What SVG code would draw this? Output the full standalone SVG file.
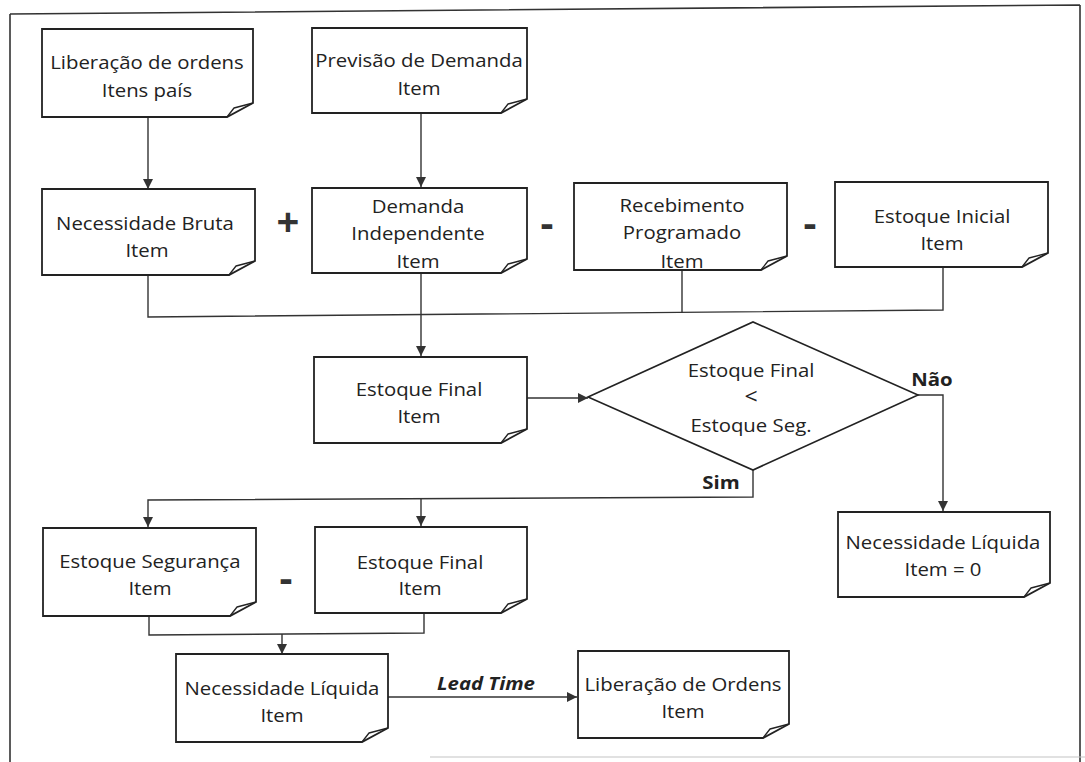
<svg xmlns="http://www.w3.org/2000/svg" width="1085" height="762" viewBox="0 0 1085 762">
  <style>
    .box{fill:#fff;stroke:#222;stroke-width:1.8;stroke-linejoin:miter}
    .fold{fill:none;stroke:#222;stroke-width:1.3;stroke-linejoin:round}
    .wire{fill:none;stroke:#333;stroke-width:1.4}
    .frame{fill:none;stroke:#333;stroke-width:1.6}
    .lbl{font-family:"Open Sans","Noto Sans","Liberation Sans",sans-serif;font-size:18.5px;fill:#222;text-anchor:middle;transform-box:fill-box;transform-origin:center;transform:scaleX(1.1)}
    .tag{font-weight:700}
    .lt{font-weight:700;font-style:italic}
    .op{font-family:"Open Sans","Noto Sans","Liberation Sans",sans-serif;font-size:40px;font-weight:700;fill:#333;text-anchor:middle}
  </style>
  <defs>
    <marker id="arrow" viewBox="0 0 10 10" refX="10" refY="5" markerWidth="10" markerHeight="10" markerUnits="userSpaceOnUse" orient="auto">
      <path d="M0,0 L10,5 L0,10 z" fill="#333"/>
    </marker>
  </defs>

  <rect width="1085" height="762" fill="#fff"/>

  <!-- page frame -->
  <g id="frame">
    <path class="frame" d="M10 14 L1080 5 M10 14 V762 M1080 5 V762"/>
    <path d="M430 757 H1085" fill="none" stroke="#c4c4c4" stroke-width="1.2"/>
  </g>

  <!-- connectors -->
  <g id="connectors" class="wire">
    <path d="M148 117 V189" marker-end="url(#arrow)"/>
    <path d="M421 113 V187" marker-end="url(#arrow)"/>
    <path d="M148 275 V317 L943 310 V267"/>
    <path d="M682 270 V312"/>
    <path d="M421 273 V356" marker-end="url(#arrow)"/>
    <path d="M527 398 H588" marker-end="url(#arrow)"/>
    <path d="M918 395 H943 V511" marker-end="url(#arrow)"/>
    <path d="M753 470 V497 L148 500 V527" marker-end="url(#arrow)"/>
    <path d="M421 499 V526" marker-end="url(#arrow)"/>
    <path d="M149 616 V635 L424 633 V613"/>
    <path d="M282 634 V654" marker-end="url(#arrow)"/>
    <path d="M388 697 H577" marker-end="url(#arrow)"/>
  </g>

  <!-- operators -->
  <g id="operators">
    <text class="op" x="288" y="236">+</text>
    <text class="op" x="547" y="237">-</text>
    <text class="op" x="810" y="237">-</text>
    <text class="op" x="286" y="592">-</text>
  </g>

  <g id="liberacao-ordens-itens-pais">
    <path class="box" d="M42 29H253V103L227 117H42Z"/>
    <path class="fold" d="M227 117L234 108L253 103"/>
    <text class="lbl" x="147" y="69">Liberação de ordens</text>
    <text class="lbl" x="147" y="97">Itens país</text>
  </g>

  <g id="previsao-demanda">
    <path class="box" d="M312 28H527V99L501 113H312Z"/>
    <path class="fold" d="M501 113L508 104L527 99"/>
    <text class="lbl" x="419" y="67">Previsão de Demanda</text>
    <text class="lbl" x="419" y="95">Item</text>
  </g>

  <g id="necessidade-bruta">
    <path class="box" d="M42 189H255V261L229 275H42Z"/>
    <path class="fold" d="M229 275L236 266L255 261"/>
    <text class="lbl" x="145" y="230">Necessidade Bruta</text>
    <text class="lbl" x="147" y="257">Item</text>
  </g>

  <g id="demanda-independente">
    <path class="box" d="M312 188H527V259L501 273H312Z"/>
    <path class="fold" d="M501 273L508 264L527 259"/>
    <text class="lbl" x="418" y="213">Demanda</text>
    <text class="lbl" x="418" y="240">Independente</text>
    <text class="lbl" x="418" y="268">Item</text>
  </g>

  <g id="recebimento-programado">
    <path class="box" d="M574 183H787V256L761 270H574Z"/>
    <path class="fold" d="M761 270L768 261L787 256"/>
    <text class="lbl" x="682" y="212">Recebimento</text>
    <text class="lbl" x="682" y="239">Programado</text>
    <text class="lbl" x="682" y="268">Item</text>
  </g>

  <g id="estoque-inicial">
    <path class="box" d="M835 182H1048V253L1022 267H835Z"/>
    <path class="fold" d="M1022 267L1029 258L1048 253"/>
    <text class="lbl" x="942" y="223">Estoque Inicial</text>
    <text class="lbl" x="942" y="250">Item</text>
  </g>

  <g id="estoque-final">
    <path class="box" d="M314 357H527V429L501 443H314Z"/>
    <path class="fold" d="M501 443L508 434L527 429"/>
    <text class="lbl" x="419" y="396">Estoque Final</text>
    <text class="lbl" x="419" y="423">Item</text>
  </g>

  <g id="decisao">
    <path class="box" d="M588 397L753 322L918 395L753 470Z" style="stroke-width:1.6"/>
    <text class="lbl" x="751" y="377">Estoque Final</text>
    <text class="lbl" x="751" y="404" style="font-size:21px">&lt;</text>
    <text class="lbl" x="751" y="432">Estoque Seg.</text>
    <text class="lbl tag" x="932" y="386">Não</text>
    <text class="lbl tag" x="721" y="489">Sim</text>
  </g>

  <g id="necessidade-liquida-zero">
    <path class="box" d="M838 512H1050V583L1024 597H838Z"/>
    <path class="fold" d="M1024 597L1031 588L1050 583"/>
    <text class="lbl" x="943" y="549">Necessidade Líquida</text>
    <text class="lbl" x="943" y="576">Item = 0</text>
  </g>

  <g id="estoque-seguranca">
    <path class="box" d="M43 528H256V602L230 616H43Z"/>
    <path class="fold" d="M230 616L237 607L256 602"/>
    <text class="lbl" x="150" y="568">Estoque Segurança</text>
    <text class="lbl" x="150" y="595">Item</text>
  </g>

  <g id="estoque-final-2">
    <path class="box" d="M315 527H527V599L501 613H315Z"/>
    <path class="fold" d="M501 613L508 604L527 599"/>
    <text class="lbl" x="420" y="569">Estoque Final</text>
    <text class="lbl" x="420" y="595">Item</text>
  </g>

  <g id="necessidade-liquida">
    <path class="box" d="M176 654H388V728L362 742H176Z"/>
    <path class="fold" d="M362 742L369 733L388 728"/>
    <text class="lbl" x="282" y="695">Necessidade Líquida</text>
    <text class="lbl" x="282" y="722">Item</text>
  </g>

  <g id="liberacao-ordens-item">
    <path class="box" d="M578 651H789V724L763 738H578Z"/>
    <path class="fold" d="M763 738L770 729L789 724"/>
    <text class="lbl" x="683" y="691">Liberação de Ordens</text>
    <text class="lbl" x="683" y="718">Item</text>
  </g>

  <text class="lbl lt" x="486" y="690">Lead Time</text>
</svg>
